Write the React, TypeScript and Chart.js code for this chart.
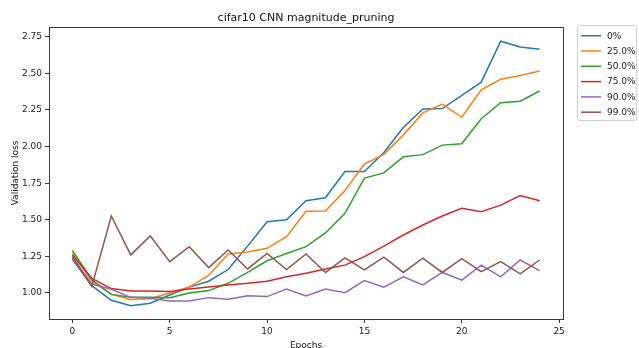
import React, { useEffect, useRef } from "react";
import { Chart, registerables } from "chart.js";

Chart.register(...registerables);

const TITLE = "cifar10 CNN magnitude_pruning";
const X_LABEL = "Epochs";
const Y_LABEL = "Validation loss";

const epochs = [0, 1, 2, 3, 4, 5, 6, 7, 8, 9, 10, 11, 12, 13, 14, 15, 16, 17, 18, 19, 20, 21, 22, 23, 24];
const xTicks = [0, 5, 10, 15, 20, 25];
const yTicks = [1.0, 1.25, 1.5, 1.75, 2.0, 2.25, 2.5, 2.75];

const seriesNames = ["0%", "25.0%", "50.0%", "75.0%", "90.0%", "99.0%"];
const seriesColors = ["#1f77b4", "#ff7f0e", "#2ca02c", "#d62728", "#9467bd", "#8c564b"];

const prune0 = [1.23, 1.05, 0.95, 0.913, 0.93, 0.986, 1.04, 1.08, 1.16, 1.32, 1.487, 1.5, 1.63, 1.65, 1.83, 1.83, 1.96, 2.13, 2.257, 2.26, 2.35, 2.44, 2.72, 2.68, 2.665];
const prune25 = [1.27, 1.08, 0.99, 0.955, 0.96, 1.0, 1.04, 1.12, 1.266, 1.28, 1.305, 1.385, 1.558, 1.56, 1.7, 1.88, 1.947, 2.08, 2.23, 2.29, 2.2, 2.387, 2.46, 2.485, 2.516];
const prune50 = [1.29, 1.09, 0.99, 0.97, 0.97, 0.968, 1.0, 1.016, 1.066, 1.14, 1.22, 1.27, 1.316, 1.41, 1.544, 1.785, 1.82, 1.93, 1.945, 2.01, 2.02, 2.19, 2.3, 2.31, 2.38];
const prune75 = [1.26, 1.1, 1.03, 1.013, 1.013, 1.01, 1.027, 1.04, 1.055, 1.066, 1.08, 1.11, 1.134, 1.164, 1.19, 1.248, 1.32, 1.396, 1.464, 1.526, 1.578, 1.555, 1.6, 1.665, 1.63];
const prune90 = [1.24, 1.06, 1.025, 0.97, 0.964, 0.945, 0.945, 0.968, 0.957, 0.98, 0.975, 1.027, 0.98, 1.027, 1.002, 1.084, 1.039, 1.11, 1.055, 1.14, 1.087, 1.19, 1.11, 1.225, 1.152];
const prune99 = [1.25, 1.045, 1.526, 1.26, 1.39, 1.214, 1.316, 1.173, 1.294, 1.164, 1.27, 1.16, 1.266, 1.14, 1.24, 1.157, 1.244, 1.14, 1.237, 1.14, 1.234, 1.145, 1.214, 1.13, 1.225];

const seriesValues = [prune0, prune25, prune50, prune75, prune90, prune99];

const FONT = "'DejaVu Sans', sans-serif";

const decorPlugin = {
  id: "decor",
  afterDraw(chart: any) {
    const ctx = chart.ctx as CanvasRenderingContext2D;
    const a = chart.chartArea;
    ctx.save();
    // frame (spines)
    ctx.strokeStyle = "#3a3a3a";
    ctx.lineWidth = 1;
    ctx.strokeRect(Math.round(a.left) + 0.5, Math.round(a.top) + 0.5, Math.round(a.right - a.left), Math.round(a.bottom - a.top));

    // title
    ctx.fillStyle = "#111";
    ctx.font = `11px ${FONT}`;
    ctx.textAlign = "center";
    ctx.textBaseline = "alphabetic";
    const cx = (a.left + a.right) / 2;
    ctx.fillText(TITLE, cx, 21);

    // x label
    ctx.font = `9px ${FONT}`;
    ctx.fillText(X_LABEL, cx, 347.5);

    // y label
    ctx.save();
    ctx.translate(17.5, (a.top + a.bottom) / 2);
    ctx.rotate(-Math.PI / 2);
    ctx.fillText(Y_LABEL, 0, 0);
    ctx.restore();

    // legend
    const bx = 577.5, by = 25.5, bw = 59, bh = 95;
    ctx.beginPath();
    if ((ctx as any).roundRect) (ctx as any).roundRect(bx, by, bw, bh, 2);
    else ctx.rect(bx, by, bw, bh);
    ctx.fillStyle = "rgba(255,255,255,0.8)";
    ctx.fill();
    ctx.strokeStyle = "#d0d0d0";
    ctx.stroke();
    ctx.font = `9px ${FONT}`;
    ctx.textAlign = "left";
    ctx.textBaseline = "middle";
    chart.data.datasets.forEach((ds: any, i: number) => {
      const y = 35.7 + i * 15.3;
      ctx.strokeStyle = ds.borderColor;
      ctx.lineWidth = 1.5;
      ctx.beginPath();
      ctx.moveTo(581, y);
      ctx.lineTo(601, y);
      ctx.stroke();
      ctx.fillStyle = "#222";
      ctx.fillText(ds.label, 607, y + 0.5);
    });
    ctx.restore();
  },
};

export default function App() {
  const canvasRef = useRef<HTMLCanvasElement | null>(null);

  useEffect(() => {
    const canvas = canvasRef.current;
    if (!canvas) return;
    const datasets = seriesNames.map((name, i) => ({
      label: name,
      data: epochs.map((e, j) => ({ x: e, y: seriesValues[i][j] })),
      borderColor: seriesColors[i],
      backgroundColor: seriesColors[i],
      borderWidth: 1.5,
      pointRadius: 0,
      tension: 0,
      fill: false,
      order: seriesNames.length - i,
    }));
    const chart = new Chart(canvas, {
      type: "line",
      data: { datasets },
      options: {
        animation: false,
        responsive: false,
        devicePixelRatio: 1,
        layout: { padding: { left: 0, top: 27, right: 76, bottom: 0 } },
        plugins: {
          legend: { display: false },
          title: { display: false },
          tooltip: { enabled: false },
        },
        scales: {
          x: {
            type: "linear",
            min: -1.2,
            max: 25.2,
            afterBuildTicks: (scale: any) => {
              scale.ticks = xTicks.map((v) => ({ value: v }));
            },
            afterFit: (scale: any) => {
              scale.height = 29;
            },
            grid: { drawOnChartArea: false, drawTicks: true, tickLength: 4, color: "#3a3a3a" },
            border: { display: false },
            ticks: {
              autoSkip: false,
              maxRotation: 0,
              padding: 3,
              color: "#222",
              font: { family: FONT, size: 9 },
              callback: (v: any) => String(v),
            },
          },
          y: {
            type: "linear",
            min: 0.822,
            max: 2.817,
            afterBuildTicks: (scale: any) => {
              scale.ticks = yTicks.map((v) => ({ value: v }));
            },
            afterFit: (scale: any) => {
              scale.width = 49;
            },
            grid: { drawOnChartArea: false, drawTicks: true, tickLength: 4, color: "#3a3a3a" },
            border: { display: false },
            ticks: {
              autoSkip: false,
              padding: 3,
              color: "#222",
              font: { family: FONT, size: 9 },
              callback: (v: any) => Number(v).toFixed(2),
            },
          },
        },
      },
      plugins: [decorPlugin],
    });
    return () => chart.destroy();
  }, []);

  return (
    <div style={{ position: "fixed", left: 0, top: 0, width: 639, height: 348, background: "#fff" }}>
      <canvas ref={canvasRef} width={639} height={348} style={{ display: "block", width: 639, height: 348 }} />
    </div>
  );
}
